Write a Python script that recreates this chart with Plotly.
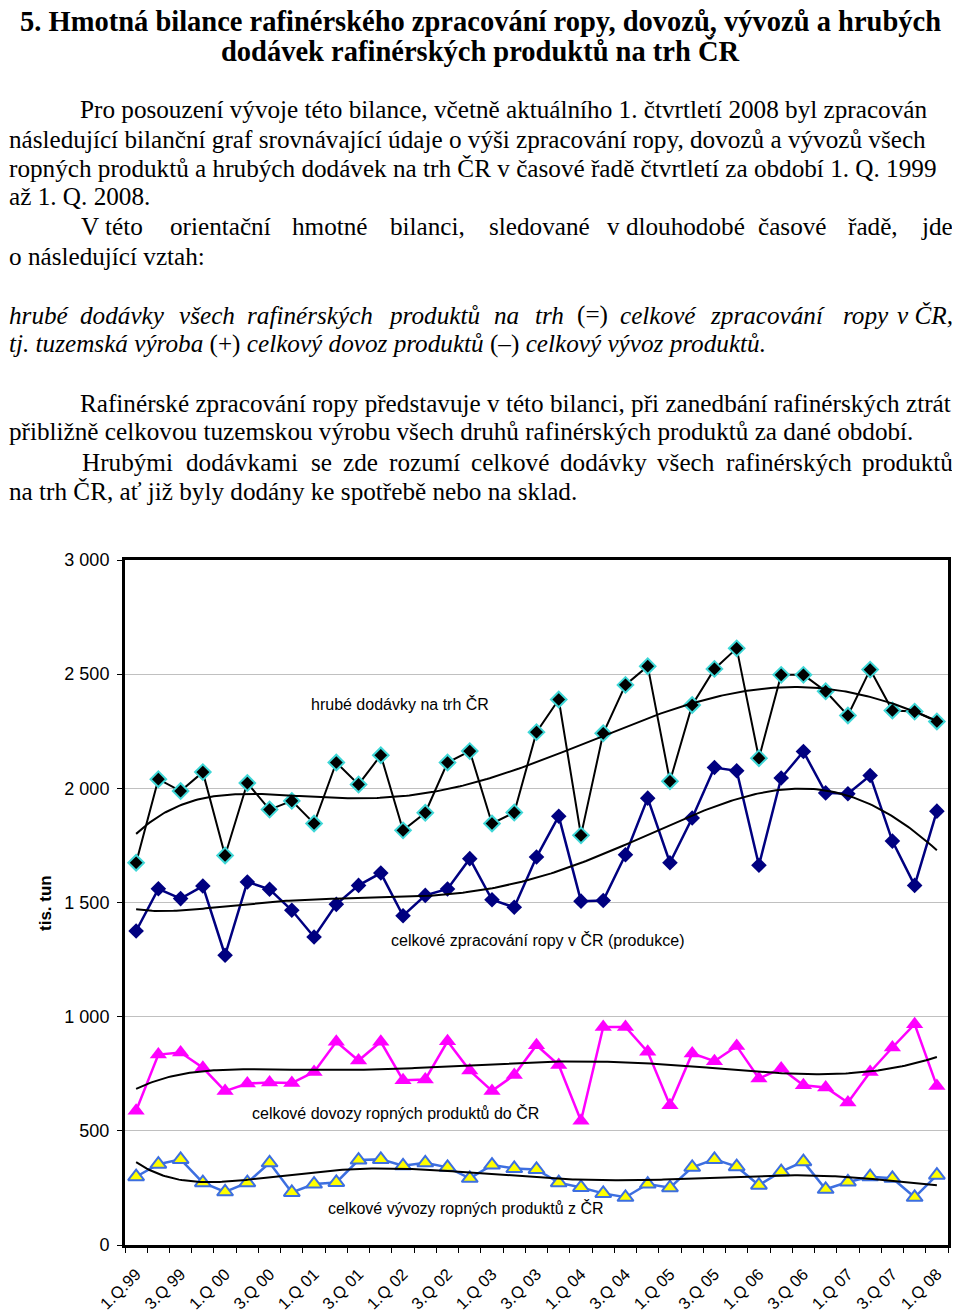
import numpy as np
import plotly.graph_objects as go

# ---------------- data ----------------
quarters = ["1.Q.99", "2.Q 99", "3.Q 99", "4.Q 99", "1.Q 00", "2.Q 00", "3.Q 00", "4.Q 00",
            "1.Q 01", "2.Q 01", "3.Q 01", "4.Q 01", "1.Q 02", "2.Q 02", "3.Q 02", "4.Q 02",
            "1.Q 03", "2.Q 03", "3.Q 03", "4.Q 03", "1.Q 04", "2.Q 04", "3.Q 04", "4.Q 04",
            "1.Q 05", "2.Q 05", "3.Q 05", "4.Q 05", "1.Q 06", "2.Q 06", "3.Q 06", "4.Q 06",
            "1.Q 07", "2.Q 07", "3.Q 07", "4.Q 07", "1.Q 08"]

hrube_dodavky = [1674, 2040, 1988, 2071, 1706, 2023, 1907, 1945, 1846, 2113,
                 2017, 2145, 1816, 1893, 2113, 2163, 1846, 1894, 2246, 2389,
                 1794, 2241, 2453, 2535, 2031, 2365, 2523, 2613, 2132, 2497,
                 2497, 2425, 2319, 2520, 2341, 2336, 2293]
zpracovani = [1375, 1560, 1517, 1572, 1269, 1590, 1558, 1466, 1349, 1492,
              1575, 1629, 1442, 1531, 1559, 1692, 1512, 1479, 1699, 1878,
              1506, 1509, 1709, 1957, 1674, 1870, 2091, 2077, 1663, 2045,
              2161, 1980, 1976, 2056, 1769, 1575, 1900]
dovozy = [588, 834, 843, 776, 674, 707, 712, 709, 758, 890,
          808, 890, 722, 725, 892, 764, 675, 744, 875, 788,
          544, 955, 955, 846, 612, 839, 805, 871, 729, 773,
          700, 690, 624, 758, 865, 967, 696]
vyvozy = [299, 354, 375, 273, 233, 273, 360, 230, 267, 274,
          372, 375, 347, 360, 340, 292, 350, 335, 331, 273,
          252, 226, 209, 267, 251, 340, 375, 343, 262, 321,
          365, 244, 276, 299, 292, 209, 306]

y_ticks = [0, 500, 1000, 1500, 2000, 2500, 3000]
y_ticktext = ["0", "500", "1 000", "1 500", "2 000", "2 500", "3 000"]

series_labels = ["hrubé dodávky na trh ČR",
                 "celkové zpracování ropy v ČR (produkce)",
                 "celkové dovozy ropných produktů do ČR",
                 "celkové vývozy ropných produktů z ČR"]

title_lines = ["5. Hmotná bilance rafinérského zpracování ropy, dovozů, vývozů a hrubých",
               "dodávek rafinérských produktů na trh ČR"]

# ---------------- helpers ----------------
OFF = 8                      # page offset of the figure in the browser
W, H = 960 - OFF, 1315 - OFF
def px(x):
    return (x - OFF) / W
def py(y):
    return 1 - (y - OFF) / H

xi = np.arange(len(quarters))
xs = np.linspace(0, len(quarters) - 1, 300)

def trend(vals):
    p = np.polynomial.Polynomial.fit(xi + 1, np.array(vals, float), 6)
    return p(xs + 1)

fig = go.Figure()

def add_series(vals, line_color, lw, symbol, size, mcolor, mline_color=None, mline_w=0):
    fig.add_trace(go.Scatter(
        x=xi, y=vals, mode="lines+markers",
        line=dict(color=line_color, width=lw),
        marker=dict(symbol=symbol, size=size, color=mcolor,
                    line=dict(color=mline_color or mcolor, width=mline_w)),
        hoverinfo="skip", showlegend=False))

add_series(hrube_dodavky, "black", 2, "diamond", 12, "black", "#3FD7D7", 2)
add_series(zpracovani, "#000080", 2.5, "diamond", 12, "#000080")
add_series(dovozy, "#FF00FF", 2.5, "triangle-up", 15, "#FF00FF")
add_series(vyvozy, "#3D6FE0", 2.5, "triangle-up", 14, "#FFFF00", "#3D6FE0", 2)

for vals in (hrube_dodavky, zpracovani, dovozy, vyvozy):
    fig.add_trace(go.Scatter(x=xs, y=trend(vals), mode="lines",
                             line=dict(color="black", width=2),
                             hoverinfo="skip", showlegend=False))

# ---------------- axes ----------------
fig.update_xaxes(
    automargin=False,
    domain=[px(125), px(948)], range=[-0.5, len(quarters) - 0.5],
    tickvals=list(xi[::2]), ticktext=quarters[::2], tickangle=-45,
    tickfont=dict(family="Liberation Sans, Arial", size=16.5, color="black"),
    ticks="", showgrid=False, zeroline=False,
    showline=True, mirror=True, linecolor="black", linewidth=3,
    ticklabelstandoff=10,
    minor=dict(tickvals=[i - 0.5 for i in range(len(quarters) + 1)],
               ticks="outside", ticklen=5, tickcolor="black", tickwidth=1, showgrid=False),
)
fig.update_yaxes(
    automargin=False,
    domain=[py(1245), py(560)], range=[0, 3000],
    tickvals=y_ticks, ticktext=y_ticktext,
    tickfont=dict(family="Liberation Sans, Arial", size=18, color="black"),
    ticks="outside", ticklen=5, tickcolor="black",
    showgrid=True, gridcolor="#C0C0C0", gridwidth=1, zeroline=False,
    showline=True, mirror=True, linecolor="black", linewidth=3,
    ticklabelstandoff=4,
)

ann = []
BODY = 25.2
LEFT = 7
def text(x, y, s, size=BODY, family="Liberation Serif, Times New Roman", anchor="left",
         bold=False, italic=False, angle=0):
    if bold:
        s = "<b>" + s + "</b>"
    if italic:
        s = "<i>" + s + "</i>"
    ann.append(dict(x=px(x), y=py(y), xref="paper", yref="paper", text=s,
                    showarrow=False, xanchor=anchor, yanchor="middle", textangle=angle,
                    font=dict(family=family, size=size, color="black")))

def justified(words, y, right=955, italic_flags=None):
    n = len(words)
    for i, (w, x) in enumerate(words):
        it = italic_flags[i] if italic_flags else False
        if i == n - 1:
            text(right, y, w, anchor="right", italic=it)
        else:
            text(max(x, LEFT), y, w, italic=it)

# title
text(480, 21, title_lines[0], size=28.5, anchor="center", bold=True)
text(480, 51, title_lines[1], size=28.5, anchor="center", bold=True)

# paragraph 1
text(78, 110, "Pro posouzení vývoje této bilance, včetně aktuálního 1. čtvrtletí 2008 byl zpracován")
text(LEFT, 139, "následující bilanční graf srovnávající údaje o výši zpracování ropy, dovozů a vývozů všech")
text(LEFT, 168, "ropných produktů a hrubých dodávek na trh ČR v časové řadě čtvrtletí za období 1. Q. 1999")
text(LEFT, 197, "až 1. Q. 2008.")

# paragraph 2 (justified line, words placed individually)
line5 = [("V", 79), ("této", 103), ("orientační", 168), ("hmotné", 290), ("bilanci,", 388),
         ("sledované", 487), ("v dlouhodobé", 605), ("časové", 756), ("řadě,", 846), ("jde", 924)]
justified(line5, 227)
text(LEFT, 256, "o následující vztah:")

# italic relation
line7 = [("hrubé", 5), ("dodávky", 78), ("všech", 177), ("rafinérských", 245), ("produktů", 386),
         ("na", 492), ("trh", 533), ("(=)", 575), ("celkové", 618), ("zpracování", 708),
         ("ropy", 841), ("v ČR,", 902)]
justified(line7, 315, italic_flags=[w != "(=)" for w, _ in line7])
text(LEFT, 344, "<i>tj. tuzemská výroba</i> (+) <i>celkový dovoz produktů</i> (–) <i>celkový vývoz produktů.</i>")

# paragraph 3
text(78, 403, "Rafinérské zpracování ropy představuje v této bilanci, při zanedbání rafinérských ztrát")
text(LEFT, 432, "přibližně celkovou tuzemskou výrobu všech druhů rafinérských produktů za dané období.")
line11 = [("Hrubými", 80), ("dodávkami", 184), ("se", 309), ("zde", 341), ("rozumí", 387),
          ("celkové", 469), ("dodávky", 558), ("všech", 655), ("rafinérských", 724), ("produktů", 859)]
justified(line11, 462)
text(LEFT, 491, "na trh ČR, ať již byly dodány ke spotřebě nebo na sklad.")

# chart texts
sans = "Liberation Sans, Arial"
text(400, 704, series_labels[0], size=16, family=sans, anchor="center")
text(537, 940, series_labels[1], size=16, family=sans, anchor="center")
text(395, 1113, series_labels[2], size=16, family=sans, anchor="center")
text(466, 1208, series_labels[3], size=16, family=sans, anchor="center")
text(45, 903, "tis. tun", size=17, family=sans, anchor="center", bold=True, angle=-90)

fig.update_layout(
    width=W, height=H, margin=dict(l=0, r=0, t=0, b=0, autoexpand=False),
    paper_bgcolor="white", plot_bgcolor="white",
    showlegend=False, annotations=ann,
)

fig.write_html("out.html")
